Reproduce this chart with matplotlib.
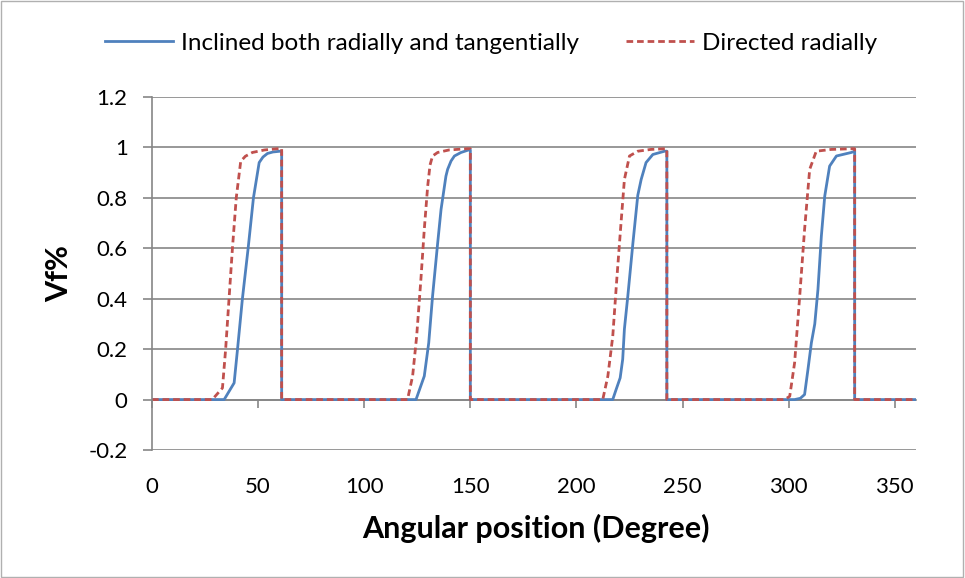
import matplotlib.pyplot as plt
from matplotlib.patches import Rectangle

plt.rcParams['font.family'] = ['Lato', 'DejaVu Sans']

# blade inclined both radially and tangentially
incl_angle = [0, 34.0, 38.7, 40.3, 42.6, 45.3, 47.8, 50.5, 52.3, 54.4, 57.0, 60.4, 61.1, 61.1,
              124.4, 128.3, 130.4, 132.2, 134.6, 136.2, 138.5, 139.3, 140.9, 142.5, 145.6, 149.2, 150.0, 150.0,
              217.1, 218.7, 220.6, 221.8, 222.6, 224.2, 226.6, 228.9, 230.5, 232.8, 236.0, 241.5, 242.6, 242.6,
              302.8, 305.5, 307.5, 309.1, 310.7, 312.3, 313.8, 315.4, 317.0, 319.3, 322.5, 329.5, 331.1, 331.1, 360]
incl_vf = [0, 0, 0.066, 0.20, 0.40, 0.60, 0.80, 0.94, 0.962, 0.976, 0.982, 0.985, 0.985, 0,
           0, 0.093, 0.225, 0.41, 0.62, 0.754, 0.886, 0.913, 0.946, 0.966, 0.98, 0.99, 0.99, 0,
           0, 0.04, 0.086, 0.16, 0.28, 0.41, 0.62, 0.81, 0.873, 0.94, 0.972, 0.985, 0.985, 0,
           0, 0.005, 0.02, 0.12, 0.225, 0.30, 0.437, 0.648, 0.807, 0.926, 0.966, 0.98, 0.985, 0, 0]

# blade directed radially
rad_angle = [0, 28.4, 33.2, 34.7, 36.3, 37.9, 39.7, 41.8, 44.0, 47.3, 53.0, 60.6, 61.1, 61.1,
             120.4, 122.8, 124.7, 126.7, 128.3, 129.9, 131.0, 132.2, 134.6, 140.0, 148.7, 150.0, 150.0,
             212.4, 214.8, 217.1, 219.0, 221.0, 222.6, 225.0, 228.9, 235.0, 242.0, 242.6, 242.6,
             298.1, 300.5, 302.8, 305.2, 307.5, 309.9, 313.0, 320.0, 330.3, 331.1, 331.1, 360]
rad_vf = [0, 0, 0.046, 0.20, 0.40, 0.60, 0.80, 0.945, 0.965, 0.98, 0.99, 0.996, 0.996, 0,
          0, 0.093, 0.25, 0.476, 0.675, 0.846, 0.93, 0.966, 0.98, 0.99, 0.995, 0.995, 0,
          0, 0.093, 0.25, 0.476, 0.70, 0.873, 0.966, 0.985, 0.992, 0.995, 0.995, 0,
          0, 0.013, 0.146, 0.41, 0.675, 0.913, 0.985, 0.992, 0.995, 0.995, 0, 0]

xticks = [0, 50, 100, 150, 200, 250, 300, 350]
yticks = [-0.2, 0, 0.2, 0.4, 0.6, 0.8, 1, 1.2]
yticklabels = ['-0.2', '0', '0.2', '0.4', '0.6', '0.8', '1', '1.2']

grey = '#868686'

fig = plt.figure(figsize=(9.65, 5.78), dpi=100)
ax = fig.add_axes([152 / 965, 1 - 450 / 578, (916 - 152) / 965, (450 - 97) / 578])

ax.plot(incl_angle, incl_vf, color='#4F81BD', lw=2.0, label='Inclined both radially and tangentially')
ax.plot(rad_angle, rad_vf, color='#C0504D', lw=2.0, dashes=(2.4, 1.4),
        label='Directed radially')

ax.set_xlim(0, 360)
ax.set_ylim(-0.2, 1.2)
ax.set_xticks(xticks)
ax.set_yticks(yticks)
ax.set_yticklabels(yticklabels)

ax.grid(axis='y', color=grey, lw=1.2)
ax.set_axisbelow(True)
for s in ['top', 'right']:
    ax.spines[s].set_visible(False)
ax.spines['left'].set_color(grey)
ax.spines['left'].set_linewidth(1.2)
# horizontal axis crosses at zero, labels stay below the plot
ax.spines['bottom'].set_position(('data', 0))
ax.spines['bottom'].set_color(grey)
ax.spines['bottom'].set_linewidth(1.2)
ax.spines['bottom'].set_zorder(0.5)

ax.tick_params(axis='y', direction='out', length=6.5, width=1.2, color=grey,
               labelsize=16, pad=11)
ax.tick_params(axis='x', direction='out', length=6, width=1.2, color=grey,
               labelsize=16, pad=50)

ax.set_xlabel('Angular position (Degree)', fontsize=22, fontweight='bold', va='center')
ax.xaxis.set_label_coords(0.503, -(528 - 450) / 353)
ax.set_ylabel('Vf%', fontsize=22, fontweight='bold', va='center')
ax.yaxis.set_label_coords((59 - 152) / 764, 0.5)

fig.legend(loc='center', bbox_to_anchor=(491 / 965, 1 - 43 / 578), ncol=2,
           frameon=False, fontsize=17.5, handlelength=2.8, columnspacing=1.9,
           handletextpad=0.35)

fig.patches.append(Rectangle((0.001, 0.002), 0.997, 0.996, transform=fig.transFigure,
                             fill=False, edgecolor='#b0b0b0', lw=1.0))

fig.savefig('out.png', dpi=100)
